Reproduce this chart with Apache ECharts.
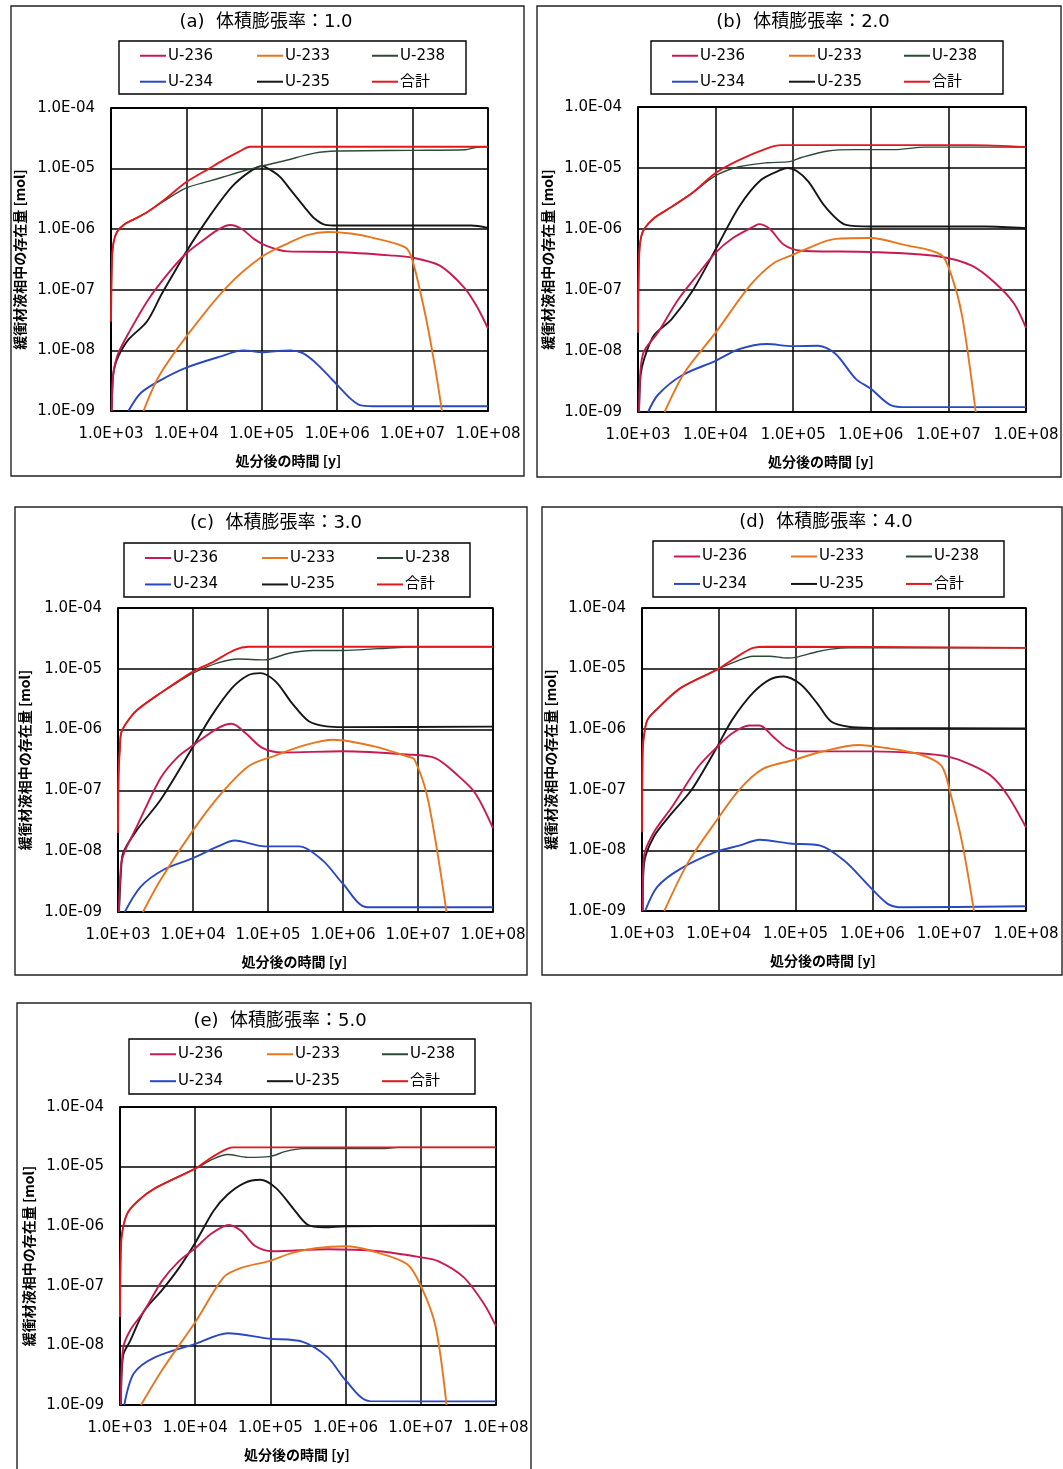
<!DOCTYPE html>
<html>
<head>
<meta charset="utf-8">
<script src="https://cdn.jsdelivr.net/npm/echarts@6/dist/echarts.min.js"></script>
<style>
html,body{margin:0;padding:0;background:#fff}
#chart{width:1063px;height:1469px}
</style>
</head>
<body>
<div id="chart"></div>
<script>
// ---- tick labels and names ----
const xTickLabels = ['1.0E+03', '1.0E+04', '1.0E+05', '1.0E+06', '1.0E+07', '1.0E+08'];
const yTickLabels = ['1.0E-09', '1.0E-08', '1.0E-07', '1.0E-06', '1.0E-05', '1.0E-04'];
const legendRows = [['U-236', 'U-233', 'U-238'], ['U-234', 'U-235', '合計']];
const panelTitles = ['(a)  体積膨張率：1.0', '(b)  体積膨張率：2.0', '(c)  体積膨張率：3.0',
                     '(d)  体積膨張率：4.0', '(e)  体積膨張率：5.0'];
const xName = '処分後の時間 [y]';
const yName = '緩衝材液相中の存在量 [mol]';

// ---- (a) volume expansion 1.0 : [years, mol] ----
const a_total = [[1000,3e-8],[1030,3e-7],[1080,6e-7],[1200,9e-7],[1500,1.2e-6],[2000,1.45e-6],[3000,1.9e-6],[5000,3.0e-6],[1e4,6e-6],[2e4,1.0e-5],[3e4,1.35e-5],[5e4,1.9e-5],[7e4,2.3e-5],[1e6,2.3e-5],[1e8,2.3e-5]];
const a_u238 = [[1000,3e-8],[1030,3e-7],[1080,6e-7],[1200,9e-7],[1500,1.2e-6],[2000,1.45e-6],[3000,1.9e-6],[5000,2.9e-6],[1e4,4.8e-6],[2e4,6.2e-6],[3e4,7.2e-6],[6e4,9.3e-6],[1e5,1.1e-5],[2e5,1.35e-5],[5e5,1.8e-5],[1e6,1.95e-5],[1e7,2.0e-5],[5e7,2.05e-5],[7e7,2.25e-5],[1e8,2.3e-5]];
const a_u235 = [[1020,1e-9],[1050,3e-9],[1100,5e-9],[1250,8e-9],[1700,1.5e-8],[3000,3e-8],[4700,8.5e-8],[7000,2e-7],[1e4,4.3e-7],[2e4,1.6e-6],[4e4,5e-6],[7e4,9e-6],[1e5,1.1e-5],[1.5e5,8.5e-6],[1.8e5,7e-6],[2.5e5,4.2e-6],[3.7e5,2.3e-6],[5e5,1.5e-6],[7e5,1.18e-6],[1e6,1.15e-6],[1e7,1.15e-6],[6e7,1.15e-6],[1e8,1.05e-6]];
const a_u236 = [[1020,1e-9],[1050,3e-9],[1100,5e-9],[1250,9e-9],[1700,1.9e-8],[3100,6.8e-8],[5800,1.9e-7],[1e4,4e-7],[1.65e4,6.5e-7],[2.7e4,1.0e-6],[3.8e4,1.17e-6],[5.5e4,1.0e-6],[8e4,6.8e-7],[1.2e5,5.2e-7],[2.2e5,4.3e-7],[1e6,4.2e-7],[5e6,3.7e-7],[1e7,3.4e-7],[2.3e7,2.5e-7],[4.8e7,1.1e-7],[7e7,5.5e-8],[1e8,2.3e-8]];
const a_u233 = [[2700,1e-9],[4300,3.7e-9],[1e4,1.7e-8],[3.4e4,1.1e-7],[1e5,3.5e-7],[2.2e5,5.8e-7],[4e5,8e-7],[7.6e5,9e-7],[1.5e6,8.5e-7],[3e6,7.2e-7],[8e6,5e-7],[1e7,3e-7],[1.5e7,3.5e-8],[2e7,5e-9],[2.45e7,1e-9]];
const a_u234 = [[1700,1e-9],[2500,2e-9],[4700,3.3e-9],[1e4,5.2e-9],[2.8e4,7.9e-9],[5.7e4,1e-8],[1.05e5,9.3e-9],[1.6e5,9.8e-9],[2.4e5,1e-8],[3.5e5,9e-9],[5e5,6.5e-9],[7e5,4.3e-9],[1e6,2.7e-9],[1.5e6,1.6e-9],[2e6,1.25e-9],[3e6,1.2e-9],[1e8,1.2e-9]];

// ---- (b) volume expansion 2.0 ----
const b_total = [[1000,2e-8],[1020,2e-7],[1050,5e-7],[1100,7.5e-7],[1200,1e-6],[1600,1.5e-6],[2700,2.3e-6],[5000,3.9e-6],[1e4,8.3e-6],[2e4,1.35e-5],[4.6e4,2.1e-5],[7e4,2.37e-5],[1e6,2.37e-5],[2e7,2.37e-5],[1e8,2.2e-5]];
const b_u238 = [[1000,2e-8],[1020,2e-7],[1050,5e-7],[1100,7.5e-7],[1200,1e-6],[1600,1.5e-6],[2700,2.3e-6],[5000,3.9e-6],[1e4,7.5e-6],[2e4,1.05e-5],[4.6e4,1.22e-5],[9e4,1.27e-5],[1.3e5,1.5e-5],[2.8e5,1.9e-5],[6e5,2e-5],[2e6,2e-5],[5e6,2.2e-5],[1e8,2.2e-5]];
const b_u235 = [[1030,1e-9],[1080,4e-9],[1200,7.4e-9],[1600,1.8e-8],[2700,3.3e-8],[5000,9.5e-8],[1e4,4.6e-7],[2e4,2.3e-6],[3.8e4,6.3e-6],[6.9e4,9.3e-6],[8.5e4,1e-5],[1.1e5,9e-6],[1.57e5,6e-6],[2.6e5,2.3e-6],[4.8e5,1.17e-6],[1e6,1.1e-6],[1e7,1.1e-6],[3e7,1.1e-6],[1e8,1.03e-6]];
const b_u236 = [[1030,1e-9],[1080,5e-9],[1200,1e-8],[1800,2e-8],[3300,7e-8],[6100,1.9e-7],[1e4,4.1e-7],[1.67e4,7.1e-7],[3.1e4,1.1e-6],[3.6e4,1.2e-6],[5e4,1e-6],[7.6e4,5.5e-7],[1.27e5,4.4e-7],[1e6,4.2e-7],[7e6,3.6e-7],[2e7,2.5e-7],[4e7,1.3e-7],[7e7,6e-8],[1e8,2.4e-8]];
const b_u233 = [[2200,1e-9],[4000,4.5e-9],[1e4,2e-8],[2.8e4,1.2e-7],[5.7e4,2.8e-7],[1e5,3.8e-7],[1.4e5,4.6e-7],[3.5e5,6.9e-7],[1e6,7.1e-7],[2.7e6,5.5e-7],[8e6,3.8e-7],[1.1e7,1.7e-7],[1.5e7,3.8e-8],[2.25e7,1e-9]];
const b_u234 = [[1350,1e-9],[1800,1.9e-9],[3700,4e-9],[1e4,6.9e-9],[2e4,1.07e-8],[4.6e4,1.3e-8],[9.7e4,1.2e-8],[2.1e5,1.22e-8],[3.5e5,9e-9],[6.4e5,3.5e-9],[1e6,2.4e-9],[1.8e6,1.3e-9],[3e6,1.2e-9],[1e8,1.2e-9]];

// ---- (c) volume expansion 3.0 ----
const c_total = [[1000,2e-8],[1020,2e-7],[1060,5e-7],[1100,8.7e-7],[1300,1.3e-6],[1800,2.1e-6],[3700,4e-6],[1e4,9e-6],[1.75e4,1.25e-5],[3.6e4,2.05e-5],[5.5e4,2.3e-5],[1e8,2.3e-5]];
const c_u238 = [[1000,2e-8],[1020,2e-7],[1060,5e-7],[1100,8.7e-7],[1300,1.3e-6],[1800,2.1e-6],[3700,4e-6],[6200,6e-6],[1e4,8.5e-6],[2.15e4,1.25e-5],[4e4,1.45e-5],[9e4,1.4e-5],[1.9e5,1.8e-5],[4e5,2e-5],[1e6,2e-5],[3e6,2.15e-5],[1e7,2.3e-5],[1e8,2.3e-5]];
const c_u235 = [[1030,1e-9],[1100,5e-9],[1170,9.3e-9],[1770,2.2e-8],[3700,7e-8],[1e4,5.2e-7],[1.75e4,1.65e-6],[3.3e4,4.8e-6],[5.5e4,7.9e-6],[7.9e4,8.5e-6],[1.26e5,6.2e-6],[2.1e5,2.7e-6],[3.5e5,1.37e-6],[6e5,1.13e-6],[1e6,1.1e-6],[1e8,1.12e-6]];
const c_u236 = [[1030,1e-9],[1100,6e-9],[1230,1e-8],[1770,2.5e-8],[3700,1.6e-7],[6200,3.5e-7],[1e4,5.5e-7],[2.15e4,1.06e-6],[3.3e4,1.25e-6],[5e4,8.8e-7],[8.4e4,5e-7],[1.55e5,4.2e-7],[1e6,4.4e-7],[7e6,3.9e-7],[1.7e7,3.4e-7],[3.5e7,1.7e-7],[5.8e7,9e-8],[1e8,2.4e-8]];
const c_u233 = [[2150,1e-9],[3700,3.4e-9],[1e4,2.2e-8],[2.4e4,9e-8],[5.5e4,2.5e-7],[1.14e5,3.6e-7],[3.2e5,5.6e-7],[7.5e5,6.8e-7],[2.6e6,5.3e-7],[7.3e6,3.6e-7],[9e6,3.2e-7],[1.36e7,7e-8],[2.4e7,1e-9]];
const c_u234 = [[1230,1e-9],[2000,2.6e-9],[4100,5e-9],[1e4,7.7e-9],[2.15e4,1.2e-8],[3.6e4,1.5e-8],[9e4,1.2e-8],[2.6e5,1.2e-8],[5.4e5,7e-9],[1e6,2.9e-9],[2.1e6,1.2e-9],[1e8,1.2e-9]];

// ---- (d) volume expansion 4.0 ----
const d_total = [[1000,2e-8],[1015,3e-7],[1040,6.3e-7],[1170,1.4e-6],[1600,2.2e-6],[3200,4.8e-6],[9500,9.6e-6],[1.5e4,1.4e-5],[2.8e4,2.2e-5],[4.2e4,2.3e-5],[1e8,2.2e-5]];
const d_u238 = [[1000,2e-8],[1015,3e-7],[1040,6.3e-7],[1170,1.4e-6],[1600,2.2e-6],[3200,4.8e-6],[9500,9.6e-6],[1.5e4,1.24e-5],[2.8e4,1.6e-5],[4.6e4,1.6e-5],[7.7e4,1.5e-5],[1.04e5,1.55e-5],[1.9e5,1.9e-5],[2.9e5,2.1e-5],[5e5,2.2e-5],[1e8,2.2e-5]];
const d_u235 = [[1020,1e-9],[1060,6e-9],[1430,1.7e-8],[2400,4e-8],[4400,9.9e-8],[9500,5.1e-7],[1.5e4,1.44e-6],[2.8e4,4e-6],[4.6e4,6.6e-6],[7e4,7.4e-6],[1.16e5,5.5e-6],[1.9e5,2.7e-6],[2.9e5,1.34e-6],[4.9e5,1.1e-6],[1e6,1.05e-6],[1e8,1.03e-6]];
const d_u236 = [[1020,1e-9],[1060,8e-9],[1430,2e-8],[2400,5e-8],[5400,2.4e-7],[9500,5.1e-7],[1.5e4,8.6e-7],[2.5e4,1.15e-6],[3.4e4,1.15e-6],[5.1e4,7.5e-7],[7.7e4,4.9e-7],[1.16e5,4.3e-7],[1e6,4.3e-7],[4e6,4e-7],[1e7,3.5e-7],[1.9e7,2.6e-7],[3.5e7,1.7e-7],[5.8e7,8e-8],[1e8,2.4e-8]];
const d_u233 = [[1950,1e-9],[4000,6.4e-9],[9500,3.2e-8],[1.84e4,1e-7],[3.7e4,2.2e-7],[9.4e4,3.1e-7],[2.1e5,4.2e-7],[6.6e5,5.5e-7],[1.5e6,4.9e-7],[4e6,3.9e-7],[7.9e6,2.5e-7],[1.03e7,9e-8],[1.5e7,1.2e-8],[2.1e7,1e-9]];
const d_u234 = [[1100,1e-9],[1580,2.5e-9],[3200,5e-9],[9500,9.6e-9],[1.84e4,1.2e-8],[3.4e4,1.5e-8],[8.5e4,1.3e-8],[2.1e5,1.2e-8],[4.4e5,6.6e-9],[9e5,2.6e-9],[1.6e6,1.3e-9],[2.5e6,1.15e-9],[1e8,1.2e-9]];

// ---- (e) volume expansion 5.0 ----
const e_total = [[1000,3e-8],[1020,3e-7],[1060,7.3e-7],[1240,1.6e-6],[1700,2.6e-6],[2900,4.3e-6],[1.03e4,9.4e-6],[1.57e4,1.37e-5],[2.7e4,2e-5],[3.3e4,2.1e-5],[1e8,2.1e-5]];
const e_u238 = [[1000,3e-8],[1020,3e-7],[1060,7.3e-7],[1240,1.6e-6],[1700,2.6e-6],[2900,4.3e-6],[1.03e4,9.4e-6],[1.75e4,1.35e-5],[2.7e4,1.6e-5],[5e4,1.43e-5],[9.6e4,1.47e-5],[1.6e5,1.8e-5],[2.7e5,2e-5],[3e6,2e-5],[5e6,2.1e-5],[1e8,2.1e-5]];
const e_u235 = [[1030,1e-9],[1100,6.8e-9],[1370,1.2e-8],[2100,3.8e-8],[3600,8.4e-8],[6100,2e-7],[1.03e4,5.6e-7],[1.75e4,1.8e-6],[2.7e4,3.4e-6],[4.5e4,5.3e-6],[7.3e4,6e-6],[1.18e5,4.4e-6],[2e5,2e-6],[3.1e5,1.07e-6],[5.2e5,9.6e-7],[1e6,1e-6],[1e8,1.02e-6]];
const e_u236 = [[1030,1e-9],[1100,9e-9],[1370,1.8e-8],[2100,3.8e-8],[3600,1.2e-7],[6100,2.6e-7],[1.03e4,4.4e-7],[1.57e4,7.2e-7],[2.8e4,1.05e-6],[4.1e4,8.3e-7],[6.2e4,4.7e-7],[1.07e5,3.8e-7],[5.8e5,4.1e-7],[2.8e6,3.8e-7],[1.02e7,3.0e-7],[1.7e7,2.6e-7],[3.7e7,1.4e-7],[6.9e7,5e-8],[1e8,2.1e-8]];
const e_u233 = [[1900,1e-9],[3600,3.8e-9],[1.03e4,2.6e-8],[2.4e4,1.4e-7],[4.1e4,2e-7],[9.6e4,2.6e-7],[2e5,3.6e-7],[4.2e5,4.3e-7],[1e6,4.6e-7],[2.3e6,3.8e-7],[6.6e6,2.3e-7],[1.02e7,9.5e-8],[1.57e7,2.1e-8],[2.2e7,1e-9]];
const e_u234 = [[1140,1e-9],[1530,3.4e-9],[2900,6.3e-9],[1.03e4,1.07e-8],[2.7e4,1.6e-8],[9.6e4,1.3e-8],[2.7e5,1.15e-8],[5.8e5,6.3e-9],[1e6,2.6e-9],[2.1e6,1.16e-9],[1e8,1.15e-9]];

const panelData = [
  {u234: a_u234, u235: a_u235, u238: a_u238, u236: a_u236, u233: a_u233, total: a_total},
  {u234: b_u234, u235: b_u235, u238: b_u238, u236: b_u236, u233: b_u233, total: b_total},
  {u234: c_u234, u235: c_u235, u238: c_u238, u236: c_u236, u233: c_u233, total: c_total},
  {u234: d_u234, u235: d_u235, u238: d_u238, u236: d_u236, u233: d_u233, total: d_total},
  {u234: e_u234, u235: e_u235, u238: e_u238, u236: e_u236, u233: e_u233, total: e_total}
];

// ---- layout (pixels) ----
const layout = [
  {plot: [111, 108, 377, 303], frame: [11, 6, 513, 470],  legend: [119, 41, 347, 53],  title: [266, 22],  yGap: 84},
  {plot: [638, 107, 388, 305], frame: [537, 6, 524, 471], legend: [651, 41, 352, 53],  title: [803, 22],  yGap: 83},
  {plot: [118, 608, 375, 304], frame: [15, 507, 512, 468], legend: [124, 543, 346, 54], title: [276, 523], yGap: 86},
  {plot: [642, 608, 384, 303], frame: [542, 507, 520, 468], legend: [653, 541, 351, 56], title: [826, 522], yGap: 84},
  {plot: [120, 1107, 376, 298], frame: [17, 1003, 514, 480], legend: [129, 1039, 346, 55], title: [280, 1021], yGap: 84}
];

// ---- styling ----
const styles = {
  'U-234': {color: '#2a48c2', key: 'u234'},
  'U-235': {color: '#161616', key: 'u235'},
  'U-238': {color: '#2e4a36', key: 'u238'},
  'U-236': {color: '#c81a52', key: 'u236'},
  'U-233': {color: '#e8761e', key: 'u233'},
  '合計':  {color: '#e3171c', key: 'total'}
};
const drawOrder = ['U-234', 'U-235', 'U-238', 'U-236', 'U-233', '合計'];
const FONT = "'DejaVu Sans', 'Noto Sans CJK JP', sans-serif";
const CJK = "'Noto Sans CJK JP', 'DejaVu Sans', sans-serif";
const INK = '#000';

const grids = [], xAxes = [], yAxes = [], series = [], legends = [], graphics = [];

layout.forEach((L, i) => {
  const [gl, gt, gw, gh] = L.plot;
  grids.push({left: gl, top: gt, width: gw, height: gh, show: true,
              borderColor: '#000', borderWidth: 1.6, backgroundColor: 'transparent'});
  xAxes.push({
    type: 'log', logBase: 10, min: 1e3, max: 1e8, gridIndex: i,
    name: xName, nameLocation: 'middle', nameGap: 43,
    nameTextStyle: {fontFamily: CJK, fontSize: 14, fontWeight: 'bold', color: INK, padding: [0, 22, 0, 0]},
    axisLine: {show: true, lineStyle: {color: '#000', width: 1.6}},
    axisTick: {show: false},
    axisLabel: {margin: 16, fontFamily: FONT, fontSize: 15, color: INK,
                formatter: v => xTickLabels[Math.round(Math.log10(v)) - 3]},
    splitLine: {show: true, lineStyle: {color: '#000', width: 1.5}}
  });
  yAxes.push({
    type: 'log', logBase: 10, min: 1e-9, max: 1e-4, gridIndex: i,
    name: yName, nameLocation: 'middle', nameGap: L.yGap, nameRotate: 90,
    nameTextStyle: {fontFamily: CJK, fontSize: 14, fontWeight: 'bold', color: INK},
    axisLine: {show: true, lineStyle: {color: '#000', width: 1.6}},
    axisTick: {show: false},
    axisLabel: {margin: 16, fontFamily: FONT, fontSize: 15, color: INK,
                formatter: v => yTickLabels[Math.round(Math.log10(v)) + 9]},
    splitLine: {show: true, lineStyle: {color: '#000', width: 1.5}}
  });

  drawOrder.forEach(name => {
    const s = styles[name];
    series.push({
      type: 'line', name, xAxisIndex: i, yAxisIndex: i,
      data: panelData[i][s.key],
      symbol: 'none', showSymbol: false, smooth: 0.3, clip: true,
      lineStyle: {color: s.color, width: name === 'U-238' ? 1.4 : 1.9},
      itemStyle: {color: s.color},
      emphasis: {disabled: true}, silent: true
    });
  });

  // legend frame + one legend component per entry
  const [lx, ly, lw, lh] = L.legend;
  graphics.push({type: 'rect', shape: {x: lx, y: ly, width: lw, height: lh},
                 style: {fill: null, stroke: '#000', lineWidth: 1.4}});
  const colX = [21, 138, 253], rowY = [lh * 0.25, lh * 0.74];
  legendRows.forEach((row, r) => row.forEach((name, c) => {
    legends.push({
      data: [name], left: lx + colX[c], top: ly + rowY[r] - 6,
      padding: 0, itemGap: 0, itemWidth: 26, itemHeight: 2, icon: 'rect',
      selectedMode: false,
      textStyle: {fontFamily: FONT, fontSize: 15, color: INK, padding: [0, 0, 0, -3]}
    });
  }));

  // panel frame + heading
  const [fx, fy, fw, fh] = L.frame;
  graphics.push({type: 'rect', shape: {x: fx, y: fy, width: fw, height: fh},
                 style: {fill: null, stroke: '#222', lineWidth: 1.4}});
  graphics.push({type: 'text', x: L.title[0], y: L.title[1],
                 style: {text: panelTitles[i], font: "18px " + FONT, fill: INK,
                         textAlign: 'center', textVerticalAlign: 'middle'}});
});

const chart = echarts.init(document.getElementById('chart'), null, {renderer: 'canvas'});
chart.setOption({
  backgroundColor: '#fff',
  animation: false,
  grid: grids, xAxis: xAxes, yAxis: yAxes,
  legend: legends, series, graphic: graphics
});
</script>
</body>
</html>
